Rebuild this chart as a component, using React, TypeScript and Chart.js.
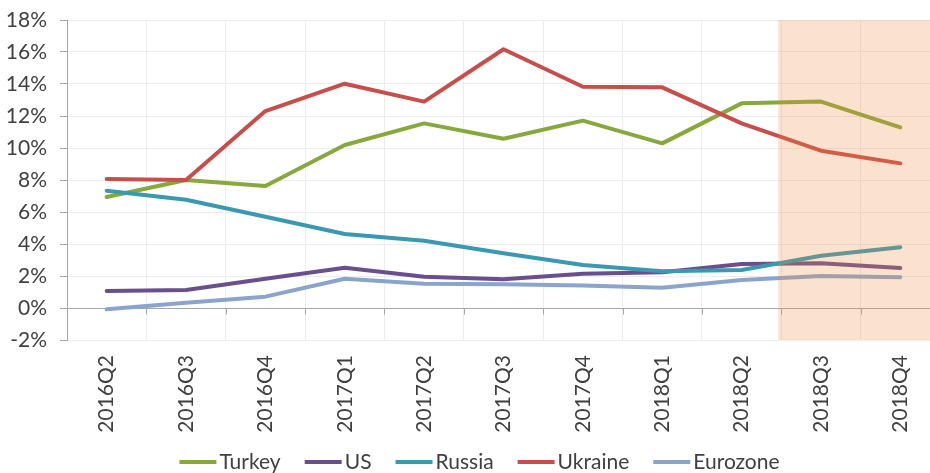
import { useEffect, useRef } from 'react';
import { Chart, registerables } from 'chart.js';

Chart.register(...registerables);

// Quarterly inflation, % y/y
const quarters = ['2016Q2', '2016Q3', '2016Q4', '2017Q1', '2017Q2', '2017Q3', '2017Q4', '2018Q1', '2018Q2', '2018Q3', '2018Q4'];
const turkey = [6.94, 8.0, 7.63, 10.19, 11.54, 10.58, 11.71, 10.29, 12.79, 12.9, 11.29];
const us = [1.06, 1.12, 1.83, 2.52, 1.96, 1.79, 2.14, 2.23, 2.75, 2.79, 2.5];
const russia = [7.33, 6.77, 5.7, 4.63, 4.2, 3.42, 2.69, 2.3, 2.38, 3.26, 3.8];
const ukraine = [8.06, 8.0, 12.31, 14.02, 12.9, 16.17, 13.83, 13.79, 11.54, 9.83, 9.04];
const eurozone = [-0.08, 0.33, 0.71, 1.83, 1.52, 1.48, 1.4, 1.27, 1.75, 2.0, 1.92];

// First forecast quarter (shaded from here to the end)
const forecastStart = '2018Q3';

const yTicks = { min: -2, max: 18, step: 2 };

const FONT_FAMILY = 'Lato, "Noto Sans", sans-serif';
const TEXT = '#404040';
const GRID = '#EDEDED';
const AXIS = '#A6A6A6';

const series = [
  { label: 'Turkey', data: turkey, color: '#86A83C' },
  { label: 'US', data: us, color: '#6A4F8F' },
  { label: 'Russia', data: russia, color: '#3A98B1' },
  { label: 'Ukraine', data: ukraine, color: '#C74E4A' },
  { label: 'Eurozone', data: eurozone, color: '#8AA4CC' },
];

// Small downward tick marks on the zero line between categories
const zeroTicks = {
  id: 'zeroTicks',
  beforeDatasetsDraw(chart: any) {
    const { ctx, scales } = chart;
    const x = scales.x;
    const y0 = Math.round(scales.y.getPixelForValue(0)) + 0.5;
    ctx.save();
    ctx.strokeStyle = AXIS;
    ctx.lineWidth = 1;
    ctx.beginPath();
    for (let i = 1; i < quarters.length; i++) {
      const px = Math.round((x.getPixelForValue(i - 1) + x.getPixelForValue(i)) / 2) + 0.5;
      ctx.moveTo(px, y0);
      ctx.lineTo(px, y0 + 6);
    }
    ctx.stroke();
    ctx.restore();
  },
};

// Translucent band over the forecast quarters
const forecastShade = {
  id: 'forecastShade',
  afterDatasetsDraw(chart: any) {
    const { ctx, chartArea, scales } = chart;
    const idx = quarters.indexOf(forecastStart);
    const x0 = (scales.x.getPixelForValue(idx - 1) + scales.x.getPixelForValue(idx)) / 2 - 3;
    ctx.save();
    ctx.fillStyle = 'rgba(241, 140, 60, 0.25)';
    ctx.fillRect(x0, chartArea.top, chartArea.right - x0, chartArea.bottom - chartArea.top);
    ctx.restore();
  },
};

// Legend: short line swatch followed closely by the series name
const lineLegend = {
  id: 'lineLegend',
  afterDraw(chart: any) {
    const { ctx } = chart;
    const swatch = 37;
    const gap = 3;
    const spacing = 24;
    const cy = 462;
    ctx.save();
    ctx.font = `21px ${FONT_FAMILY}`;
    const widths = series.map((s) => swatch + gap + ctx.measureText(s.label).width);
    const total = widths.reduce((a, b) => a + b, 0) + spacing * (series.length - 1);
    let x = 479.5 - total / 2;
    ctx.textBaseline = 'middle';
    ctx.textAlign = 'left';
    series.forEach((s, i) => {
      ctx.strokeStyle = s.color;
      ctx.lineWidth = 4;
      ctx.lineCap = 'butt';
      ctx.beginPath();
      ctx.moveTo(x, cy);
      ctx.lineTo(x + swatch, cy);
      ctx.stroke();
      ctx.fillStyle = TEXT;
      ctx.fillText(s.label, x + swatch + gap, cy);
      x += widths[i] + spacing;
    });
    ctx.restore();
  },
};

export default function App() {
  const ref = useRef<HTMLCanvasElement>(null);

  useEffect(() => {
    document.body.style.margin = '0';
    const canvas = ref.current;
    if (!canvas) return;
    const font = { family: FONT_FAMILY, size: 21 };
    const chart = new Chart(canvas, {
      type: 'line',
      data: {
        labels: quarters,
        datasets: series.map((s, i) => ({
          label: s.label,
          data: s.data,
          borderColor: s.color,
          backgroundColor: s.color,
          borderWidth: 4,
          borderCapStyle: 'round',
          borderJoinStyle: 'round',
          pointRadius: 0,
          tension: 0,
          order: series.length - i,
        })),
      },
      options: {
        animation: false,
        responsive: false,
        devicePixelRatio: 1,
        layout: { padding: { top: 20, right: 0, bottom: 0, left: 0 } },
        plugins: { legend: { display: false }, tooltip: { enabled: false } },
        scales: {
          x: {
            offset: true,
            grid: { offset: true, color: GRID, drawTicks: false },
            border: { color: GRID },
            ticks: { minRotation: 90, maxRotation: 90, padding: 15, font, color: TEXT, autoSkip: false },
            afterFit: (s: any) => {
              s.height = 133;
              s.paddingLeft = 0;
              s.paddingRight = 0;
            },
          },
          y: {
            min: yTicks.min,
            max: yTicks.max,
            ticks: {
              stepSize: yTicks.step,
              callback: (v: any) => `${v}%`,
              padding: 13,
              font,
              color: TEXT,
            },
            grid: {
              color: (c: any) => (c.tick && c.tick.value === 0 ? AXIS : GRID),
              tickColor: AXIS,
              tickLength: 7,
            },
            border: { color: AXIS },
            afterFit: (s: any) => {
              s.width = 67;
              s.paddingTop = 0;
              s.paddingBottom = 0;
            },
          },
        },
      } as any,
      plugins: [zeroTicks, forecastShade, lineLegend],
    });
    return () => chart.destroy();
  }, []);

  return (
    <div style={{ width: 930, height: 473, overflow: 'hidden' }}>
      <canvas ref={ref} width={940} height={473} style={{ display: 'block' }} />
    </div>
  );
}
